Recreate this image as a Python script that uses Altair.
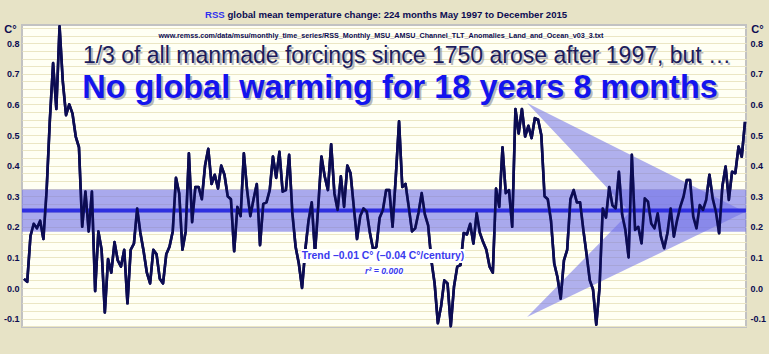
import altair as alt
import pandas as pd

# ---------------- data ----------------
anomaly_1997 = [0.03, 0.02, 0.17, 0.21, 0.195, 0.22, 0.16, 0.32]            # May-Dec
anomaly_1998 = [0.55, 0.735, 0.585, 0.855, 0.675, 0.565, 0.60, 0.57, 0.495, 0.46, 0.20, 0.315]
anomaly_1999 = [0.185, 0.315, -0.01, 0.185, 0.125, -0.08, 0.095, 0.05, 0.15, 0.09, 0.07, 0.125]
anomaly_2000 = [-0.05, 0.125, 0.145, 0.26, 0.18, 0.12, 0.05, 0.015, 0.125, 0.11, 0.03, 0.015]
anomaly_2001 = [0.11, 0.135, 0.185, 0.36, 0.31, 0.125, 0.185, 0.44, 0.215, 0.33, 0.33, 0.29]
anomaly_2002 = [0.40, 0.455, 0.34, 0.37, 0.325, 0.40, 0.37, 0.30, 0.29, 0.12, 0.265, 0.235]
anomaly_2003 = [0.44, 0.32, 0.235, 0.29, 0.34, 0.14, 0.275, 0.28, 0.32, 0.43, 0.36, 0.445]
anomaly_2004 = [0.315, 0.32, 0.435, 0.245, 0.135, 0.08, 0.0, 0.125, 0.22, 0.28, 0.115, 0.265]
anomaly_2005 = [0.43, 0.365, 0.32, 0.47, 0.31, 0.255, 0.365, 0.265, 0.40, 0.375, 0.265, 0.16]
anomaly_2006 = [0.235, 0.26, 0.25, 0.18, 0.125, 0.135, 0.23, 0.255, 0.32, 0.32, 0.20, 0.365]
anomaly_2007 = [0.545, 0.33, 0.34, 0.265, 0.185, 0.195, 0.245, 0.31, 0.24, 0.205, 0.09, 0.015]
anomaly_2008 = [-0.115, -0.06, 0.025, 0.015, -0.125, 0.005, 0.07, 0.075, 0.18, 0.175, 0.21, 0.145]
anomaly_2009 = [0.245, 0.18, 0.15, 0.125, 0.07, 0.05, 0.325, 0.265, 0.46, 0.31, 0.32, 0.20]
anomaly_2010 = [0.585, 0.505, 0.585, 0.495, 0.53, 0.49, 0.555, 0.55, 0.50, 0.30, 0.29, 0.22]
anomaly_2011 = [0.08, 0.035, -0.035, 0.09, 0.125, 0.29, 0.32, 0.28, 0.28, 0.19, 0.11, 0.025]
anomaly_2012 = [-0.005, -0.12, 0.0, 0.26, 0.23, 0.33, 0.27, 0.26, 0.38, 0.24, 0.19, 0.10]
anomaly_2013 = [0.435, 0.19, 0.20, 0.146, 0.293, 0.282, 0.211, 0.195, 0.244, 0.168, 0.13, 0.179]
anomaly_2014 = [0.26, 0.168, 0.222, 0.266, 0.299, 0.353, 0.353, 0.233, 0.195, 0.271, 0.255, 0.288]
anomaly_2015 = [0.37, 0.293, 0.249, 0.179, 0.332, 0.397, 0.288, 0.38, 0.375, 0.462, 0.429, 0.543]

anomaly = (anomaly_1997 + anomaly_1998 + anomaly_1999 + anomaly_2000 + anomaly_2001 +
           anomaly_2002 + anomaly_2003 + anomaly_2004 + anomaly_2005 + anomaly_2006 +
           anomaly_2007 + anomaly_2008 + anomaly_2009 + anomaly_2010 + anomaly_2011 +
           anomaly_2012 + anomaly_2013 + anomaly_2014 + anomaly_2015)

trend_value = 0.253
band_low, band_high = 0.184, 0.322

# arrow decoration vertices (decimal year, C°)
arrow_top = (2010.30, 0.605)
arrow_bottom = (2010.30, -0.095)
arrow_tip = (2015.92, 0.248)
arrow_notch = (2012.95, 0.248)

title_rss = "RSS"
title_rest = "global mean temperature change: 224 months May 1997 to December 2015"
url_text = "www.remss.com/data/msu/monthly_time_series/RSS_Monthly_MSU_AMSU_Channel_TLT_Anomalies_Land_and_Ocean_v03_3.txt"
headline1 = "1/3 of all manmade forcings since 1750 arose after 1997, but \u2026"
headline2 = "No global warming for 18 years 8 months"
trend_text = "Trend \u20130.01 C\u00b0 (\u20130.04 C\u00b0/century)"
r2_text = "r\u00b2 = 0.000"

# ---------------- build tables ----------------
df = pd.DataFrame({
    "t": [1997 + (4 + i) / 12 for i in range(len(anomaly))],
    "v": anomaly,
})

def lerp(p, q, x):
    return p[1] + (q[1] - p[1]) * (x - p[0]) / (q[0] - p[0])

upper_wing = pd.DataFrame({
    "t": [arrow_top[0], arrow_notch[0], arrow_tip[0]],
    "y": [arrow_top[1], lerp(arrow_top, arrow_tip, arrow_notch[0]), arrow_tip[1]],
    "y2": [arrow_top[1], arrow_notch[1], arrow_tip[1]],
})
lower_wing = pd.DataFrame({
    "t": [arrow_bottom[0], arrow_notch[0], arrow_tip[0]],
    "y": [arrow_bottom[1], lerp(arrow_bottom, arrow_tip, arrow_notch[0]), arrow_tip[1]],
    "y2": [arrow_bottom[1], arrow_notch[1], arrow_tip[1]],
})
one_row = pd.DataFrame({"k": [0]})

W, H = 724, 302
X_DOMAIN = [1997.2818, 2015.9425]
Y_DOMAIN = [-0.1274, 0.8595]

NAVY = "#0c0c52"
FONT = "Liberation Sans, Arial, sans-serif"

x_grid = [1997.5 + 0.5 * k for k in range(37)]
y_grid = [round(-0.125 + 0.025 * k, 3) for k in range(40)]

xscale = alt.Scale(domain=X_DOMAIN, nice=False, zero=False)
yscale = alt.Scale(domain=Y_DOMAIN, nice=False, zero=False)

x_enc = alt.X("t:Q", scale=xscale, axis=alt.Axis(
    values=x_grid, title=None, grid=True, gridColor="#ebe6c4", gridWidth=1,
    domain=False, ticks=False, labelPadding=6, labelFont=FONT, labelFontSize=9,
    labelFontWeight="bold", labelColor=NAVY, labelOverlap=False,
    labelExpr="datum.value % 1 == 0 ? format(datum.value, 'd') : ''"))

y_label_expr = ("abs(datum.value*10 - round(datum.value*10)) < 0.001 ? "
                "(datum.value < -0.001 ? '-' + format(-datum.value, '.1f') : format(abs(datum.value), '.1f')) : ''")

def y_axis(orient, title_x, pad, grid):
    return alt.Axis(
        values=y_grid, orient=orient, title="C\u00b0", titleAngle=0, titleX=title_x, titleY=4,
        titleAlign="center", titleBaseline="middle", titleFont=FONT, titleFontSize=11,
        titleFontWeight="bold", titleColor=NAVY,
        grid=grid, gridColor="#ebe6c4", gridWidth=1, domain=False, ticks=False,
        labelPadding=pad, labelFont=FONT, labelFontSize=9, labelFontWeight="bold",
        labelColor=NAVY, labelOverlap=False, labelExpr=y_label_expr)

line = alt.Chart(df).mark_line(color=NAVY, strokeWidth=2.6, strokeJoin="round").encode(
    x=x_enc, y=alt.Y("v:Q", scale=yscale, axis=y_axis("left", -12, 3, True)))

band = alt.Chart(one_row).mark_rect(color="#7070e8", opacity=0.6).encode(
    x=alt.value(0), x2=alt.value(W),
    y=alt.YDatum(band_low, scale=yscale, axis=None), y2=alt.datum(band_high))

wing_style = dict(color="#7070e8", opacity=0.55, line=False)
wing1 = alt.Chart(upper_wing).mark_area(**wing_style).encode(
    x=alt.X("t:Q", scale=xscale), y=alt.Y("y:Q", scale=yscale, axis=None), y2="y2:Q")
wing2 = alt.Chart(lower_wing).mark_area(**wing_style).encode(
    x=alt.X("t:Q", scale=xscale), y=alt.Y("y:Q", scale=yscale, axis=None), y2="y2:Q")

trend = alt.Chart(one_row).mark_rule(color="#2f2fe0", strokeWidth=4).encode(
    y=alt.YDatum(trend_value, scale=yscale, axis=y_axis("right", 11, 4, False)))

def txt(text, x, y, size, color, weight="normal", align="center",
        style="normal", dx=0, dy=0, opacity=1.0):
    return alt.Chart(one_row).mark_text(
        text=text, fontSize=size, color=color, fontWeight=weight, font=FONT,
        align=align, baseline="middle", fontStyle=style, dx=dx, dy=dy, opacity=opacity
    ).encode(x=alt.value(x), y=alt.value(y))

def box(x1, x2, y1, y2):
    return alt.Chart(one_row).mark_rect(color="white").encode(
        x=alt.value(x1), x2=alt.value(x2), y=alt.value(y1), y2=alt.value(y2))

layers = [
    line, band, wing1, wing2, trend,
    line.encode(y=alt.Y("v:Q", scale=yscale, axis=None), x=alt.X("t:Q", scale=xscale, axis=None)),
    txt(title_rss, 183, -10.5, 9.6, "#3030ee", "bold", align="left"),
    txt(title_rest, 205.5, -10.5, 9.6, NAVY, "bold", align="left"),
    txt(url_text, 359, 10.5, 7.2, NAVY, "bold"),
    txt(headline1, 385, 31, 23, "#9a9aa6", dx=2, dy=2, opacity=0.7),
    txt(headline1, 385, 31, 23, "#1c1c5c"),
    txt(headline2, 378, 63, 32.5, "#9a9aa6", "bold", dx=2, dy=2, opacity=0.7),
    txt(headline2, 378, 63, 32.5, "#1414ee", "bold"),
    box(279, 443, 224, 238),
    box(343, 381, 241, 251),
    txt(trend_text, 361, 231, 10.4, "#3a3aee", "bold"),
    txt(r2_text, 362, 246, 8.7, "#3a3aee", "bold", style="italic"),
]

chart = alt.layer(*layers).resolve_axis(y="independent").properties(
    width=W, height=H,
    padding={"left": 22, "top": 25, "right": 23, "bottom": 27},
    autosize=alt.AutoSizeParams(type="none"),
    background="#e7e3c6",
).configure_view(stroke="#c2c2c2", strokeWidth=2, fill="#fffff4")

chart.save("out.html", embed_options={"renderer": "svg", "actions": False})
